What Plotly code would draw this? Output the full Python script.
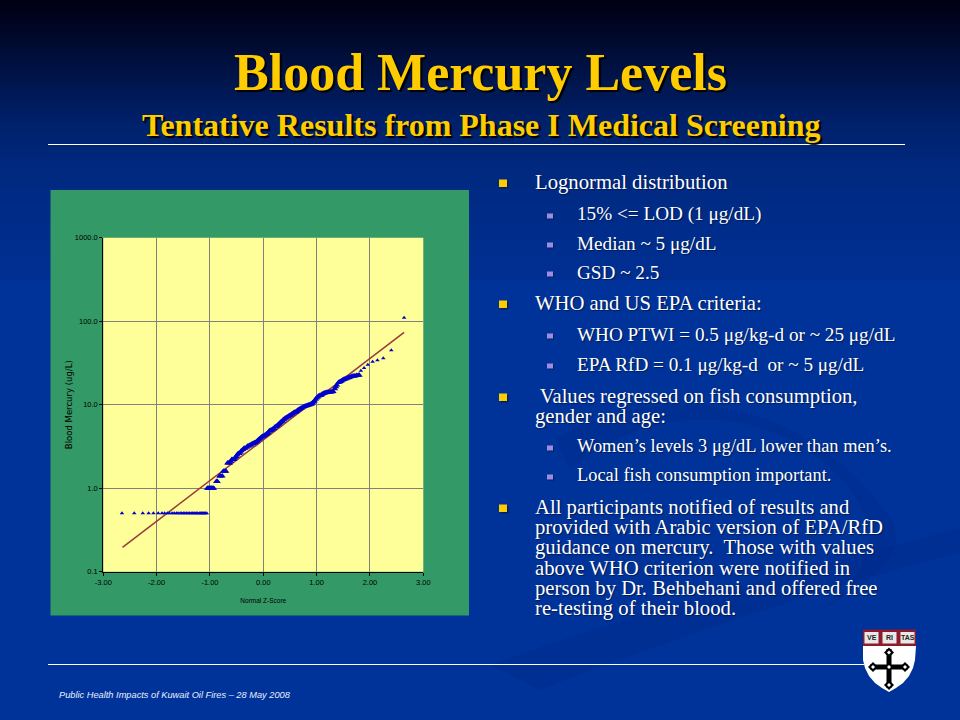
import plotly.graph_objects as go

# ---------- data ----------
z_lod = [-2.65, -2.42, -2.26, -2.15, -2.06, -1.97, -1.90, -1.85, -1.80, -1.76, -1.71, -1.67,
         -1.63, -1.60, -1.56, -1.53, -1.50, -1.47, -1.44, -1.41, -1.38, -1.35, -1.33, -1.30,
         -1.28, -1.25, -1.23, -1.20, -1.18, -1.16, -1.14, -1.12, -1.10, -1.08, -1.06]
y_lod = [0.5] * len(z_lod)

z_obs = [-1.05, -1.03, -1.01, -0.99, -0.97, -0.95, -0.93, -0.88, -0.86, -0.82, -0.80, -0.77, -0.75, -0.72, -0.70,
         -0.67, -0.65, -0.63, -0.61, -0.59, -0.57, -0.55, -0.53, -0.51, -0.49, -0.47, -0.45, -0.43, -0.41,
         -0.38, -0.36, -0.34, -0.31, -0.29, -0.27, -0.25, -0.23, -0.21, -0.19, -0.17, -0.15, -0.13, -0.11,
         -0.09, -0.07, -0.05, -0.03, -0.01, 0.01, 0.03, 0.05, 0.07, 0.09, 0.11, 0.125, 0.14, 0.16, 0.18,
         0.20, 0.22, 0.24, 0.26, 0.28, 0.30, 0.32, 0.34, 0.36, 0.375, 0.39, 0.41, 0.43, 0.45, 0.47, 0.49,
         0.51, 0.53, 0.55, 0.57, 0.59, 0.61, 0.625, 0.64, 0.66, 0.68, 0.70, 0.72, 0.75, 0.77, 0.79, 0.81,
         0.83, 0.85, 0.87, 0.89, 0.906, 0.92, 0.94, 0.96, 0.98, 1.00, 1.02, 1.04, 1.06, 1.08, 1.095, 1.11,
         1.13, 1.15, 1.17, 1.19, 1.21, 1.23, 1.25, 1.27, 1.29, 1.31, 1.34, 1.36, 1.38, 1.41, 1.43, 1.45,
         1.47, 1.49, 1.51, 1.53, 1.55, 1.57, 1.59, 1.61, 1.63, 1.66, 1.68, 1.70, 1.72, 1.75, 1.78, 1.80]
y_obs = [1.0, 1.0, 1.0, 1.0, 1.0, 1.0, 1.0, 1.2, 1.2, 1.4, 1.4, 1.4, 1.6, 1.6, 1.6,
         2.0, 2.0, 2.0, 2.1, 2.2, 2.2, 2.2, 2.3, 2.4, 2.5, 2.6, 2.6, 2.7, 2.8,
         2.9, 3.0, 3.0, 3.1, 3.2, 3.2, 3.3, 3.3, 3.4, 3.4, 3.5, 3.5, 3.6, 3.7,
         3.8, 3.9, 4.0, 4.1, 4.2, 4.2, 4.3, 4.4, 4.5, 4.6, 4.8, 4.9, 4.9, 5.0, 5.1,
         5.2, 5.4, 5.5, 5.6, 5.8, 5.9, 6.1, 6.3, 6.4, 6.6, 6.7, 6.9, 7.0, 7.1, 7.2, 7.4,
         7.5, 7.7, 7.8, 8.0, 8.1, 8.2, 8.3, 8.5, 8.7, 8.8, 9.0, 9.1, 9.4, 9.5, 9.6, 9.7,
         9.8, 9.9, 10.0, 10.1, 10.2, 10.5, 10.8, 11.1, 11.6, 12.0, 12.4, 12.7, 12.9, 13.0, 13.2, 13.4,
         13.6, 13.8, 13.9, 14.0, 14.1, 14.1, 14.2, 14.2, 14.3, 14.4, 15.5, 16.4, 17.2, 18.4, 18.7, 19.0,
         19.4, 19.8, 20.0, 20.3, 20.5, 20.7, 21.0, 21.2, 21.5, 21.8, 21.9, 22.0, 22.1, 22.3, 22.5, 22.6]

z_tail = [1.83, 1.89, 1.96, 2.05, 2.14, 2.25, 2.40, 2.64]
y_tail = [25.5, 27.5, 30.0, 32.7, 34.0, 36.0, 45.0, 110.0]

z_fit = [-2.64, 2.64]
y_fit = [0.196, 73.4]

x_ticks = [-3, -2, -1, 0, 1, 2, 3]
x_labels = ["-3.00", "-2.00", "-1.00", "0.00", "1.00", "2.00", "3.00"]
y_ticks = [0.1, 1, 10, 100, 1000]
y_labels = ["0.1", "1.0", "10.0", "100.0", "1000.0"]

title_main = "Blood Mercury Levels"
title_sub = "Tentative Results from Phase I Medical Screening"
footer = "Public Health Impacts of Kuwait Oil Fires – 28 May 2008"

level1 = [
    (["Lognormal distribution"], 182),
    (["WHO and US EPA criteria:"], 303),
    ([" Values regressed on fish consumption,", "gender and age:"], 396),
    (["All participants notified of results and", "provided with Arabic version of EPA/RfD",
      "guidance on mercury.  Those with values", "above WHO criterion were notified in",
      "person by Dr. Behbehani and offered free", "re-testing of their blood."], 507),
]
level2 = [
    ("15% <= LOD (1 μg/dL)", 214, 19.2),
    ("Median ~ 5 μg/dL", 243, 19.2),
    ("GSD ~ 2.5", 272, 19.2),
    ("WHO PTWI = 0.5 μg/kg-d or ~ 25 μg/dL", 334, 19.2),
    ("EPA RfD = 0.1 μg/kg-d  or ~ 5 μg/dL", 364, 19.2),
    ("Women’s levels 3 μg/dL lower than men’s.", 446, 18.4),
    ("Local fish consumption important.", 475, 18.4),
]

W, H = 960, 720
def px(x): return x / W
def py(y): return 1 - y / H

shapes, notes = [], []

def rect(x0, y0, x1, y1, color):
    shapes.append(dict(type="rect", xref="paper", yref="paper", layer="below",
                       x0=px(x0), x1=px(x1), y0=py(y0), y1=py(y1),
                       fillcolor=color, line_width=0))

def poly(points, color, layer="below"):
    d = "M " + " L ".join(f"{px(a):.5f},{py(b):.5f}" for a, b in points) + " Z"
    shapes.append(dict(type="path", xref="paper", yref="paper", layer=layer, path=d,
                       fillcolor=color, line_width=0))

def curve(d, color):
    shapes.append(dict(type="path", xref="paper", yref="paper", layer="below", path=d,
                       fillcolor=color, line_width=0))

def P(a, b): return f"{px(a):.5f},{py(b):.5f}"

def text(x, y, s, size, color="#FFFFFF", family="Liberation Serif", anchor="left",
         shadow="1px 1px 1px #001A55", style="normal", weight="normal"):
    notes.append(dict(xref="paper", yref="paper", x=px(x), y=py(y), text=s, showarrow=False,
                      xanchor=anchor, yanchor="middle", align="left", borderpad=0,
                      font=dict(size=size, color=color, family=family, shadow=shadow,
                                style=style, weight=weight)))

# background gradient
stops = [(0, (0, 0, 20)), (12, (0, 2, 26)), (60, (0, 16, 62)), (110, (0, 30, 100)),
         (160, (0, 40, 125)), (260, (0, 47, 145)), (720, (0, 51, 153))]
def bg(y):
    for (a, c0), (b, c1) in zip(stops, stops[1:]):
        if y <= b:
            t = (y - a) / (b - a)
            return "rgb(" + ",".join(str(round(u + (v - u) * t)) for u, v in zip(c0, c1)) + ")"
    return "rgb(0,51,153)"
step = 4
for i in range(0, 280, step):
    rect(0, i, W, i + step + 1, bg(i))
rect(0, 280, W, H, "rgb(0,51,153)")

# faint decorative swooshes
curve(f"M {P(490,665)} C {P(640,610)} {P(800,570)} {P(960,528)} L {P(960,552)} "
      f"C {P(820,590)} {P(680,635)} {P(540,690)} Z", "rgba(0,30,120,0.16)")
curve(f"M {P(555,440)} C {P(640,385)} {P(800,380)} {P(895,525)} "
      f"C {P(905,560)} {P(860,590)} {P(820,610)} C {P(875,570)} {P(880,530)} {P(850,490)} "
      f"C {P(780,400)} {P(650,400)} {P(570,470)} Z", "rgba(0,30,120,0.14)")

# rules
rect(48, 144, 905, 145, "#FFFFFF")
rect(48, 664, 864, 665, "#FFFFFF")

# chart panel and plot face
rect(50.5, 190, 469, 615.5, "#339966")
rect(103.3, 237.7, 423.3, 571.7, "#FFFF99")

# bullets
for lines, y in level1:
    rect(500.5, y - 1, 508.5, y + 6.5, "#00205F")
    rect(499, y - 2.5, 507, y + 5, "#FFCC00")
    for i, s in enumerate(lines):
        text(533.5, y + i * 20.35, s, 20.7)
for s, y, size in level2:
    rect(548, y + 0.5, 554, y + 5.5, "#00205F")
    rect(547, y - 0.5, 553, y + 4.5, "#9D8CE0")
    text(575.5, y, s, size)

# titles and footer
text(480, 73, title_main, 52, "#FFCC00", anchor="center", weight="bold", shadow="2px 2px 1px #000000")
text(481, 125, title_sub, 32, "#FFCC00", anchor="center", weight="bold", shadow="2px 2px 1px #000000")
text(58, 695, footer, 9.25, "#E8F0FF", family="Liberation Sans", style="italic", shadow="none")

# shield
shield = [(863, 646), (863, 660), (865, 668), (869, 676), (875, 683), (882, 688), (889, 692),
          (896, 688), (903, 683), (909, 676), (913, 668), (915, 660), (916, 646)]
poly([(863, 629.5), (916, 629.5), (916, 646), (863, 646)], "#8C1C2C", "above")
poly(shield, "#FFFFFF", "above")
poly([(886.5, 649), (891.5, 649), (891.5, 664.5), (908, 664.5), (908, 669.5), (891.5, 669.5),
      (891.5, 688), (886.5, 688), (886.5, 669.5), (870, 669.5), (870, 664.5), (886.5, 664.5)],
     "#000000", "above")
for cx, cy in [(889, 652.5), (889, 685), (873, 667), (905, 667)]:
    poly([(cx - 5, cy), (cx, cy - 5), (cx + 5, cy), (cx, cy + 5)], "#000000", "above")
    poly([(cx - 2, cy), (cx, cy - 2), (cx + 2, cy), (cx, cy + 2)], "#FFFFFF", "above")
poly([(887, 667), (889, 665), (891, 667), (889, 669)], "#FFFFFF", "above")
for bx, label in [(871.5, "VE"), (889.5, "RI"), (907.5, "TAS")]:
    poly([(bx - 7, 632), (bx + 7, 632), (bx + 7, 643.5), (bx - 7, 643.5)], "#E8E8E8", "above")
    text(bx, 637.8, label, 7, "#222222", family="Liberation Sans", anchor="center", shadow="none", weight="bold")

fig = go.Figure()
fig.add_trace(go.Scatter(x=z_fit, y=y_fit, mode="lines", name="Fit",
                         line=dict(color="#993B3B", width=1.5),
                         showlegend=False, hoverinfo="skip"))
fig.add_trace(go.Scatter(x=z_lod + z_tail, y=y_lod + y_tail, mode="markers", name="Observed (sparse)",
                         marker=dict(symbol="triangle-up", size=4, color="#0000CC"),
                         showlegend=False, hoverinfo="skip"))
fig.add_trace(go.Scatter(x=z_obs, y=y_obs, mode="markers", name="Observed",
                         marker=dict(symbol="triangle-up", size=6, color="#0000CC"),
                         showlegend=False, hoverinfo="skip"))

tick_font = dict(family="Liberation Sans", size=7.5, color="#000000")
fig.update_layout(
    width=W, height=H, margin=dict(l=0, r=0, t=0, b=0, pad=0, autoexpand=False),
    paper_bgcolor="rgb(0,51,153)", plot_bgcolor="rgba(0,0,0,0)",
    shapes=shapes, annotations=notes, showlegend=False,
    xaxis=dict(domain=[px(103.3), px(423.3)], range=[-3, 3], tickvals=x_ticks, ticktext=x_labels,
               showgrid=True, gridcolor="#808080", gridwidth=1, zeroline=False,
               showline=True, linecolor="#000000", linewidth=1, ticks="outside", ticklen=3,
               tickcolor="#000000", tickfont=tick_font,
               title=dict(text="Normal Z-Score", standoff=12,
                          font=dict(family="Liberation Sans", size=6.5, color="#000000"))),
    yaxis=dict(domain=[py(571.7), py(237.7)], type="log", range=[-1, 3], tickvals=y_ticks,
               ticktext=y_labels, showgrid=True, gridcolor="#808080", gridwidth=1, zeroline=False,
               showline=True, linecolor="#000000", linewidth=1, ticks="outside", ticklen=3,
               tickcolor="#000000", tickfont=tick_font,
               title=dict(text="Blood Mercury (ug/L)", standoff=0,
                          font=dict(family="DejaVu Sans", size=8.5, color="#000000"))),
)
fig.write_html("out.html", config=dict(displayModeBar=False),
               post_script="document.body.style.margin='0';document.body.style.overflow='hidden';")
